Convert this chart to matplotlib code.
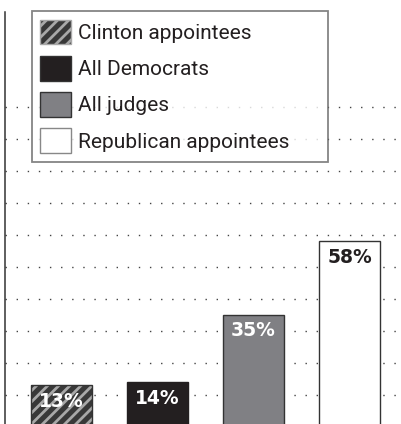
import matplotlib
matplotlib.use('Agg')
import matplotlib.pyplot as plt

plt.rcParams['font.family'] = ['Roboto', 'DejaVu Sans']
plt.rcParams['hatch.linewidth'] = 2.0

# data
groups = ['Clinton appointees', 'All Democrats', 'All judges', 'Republican appointees']
values = [13, 14, 35, 58]
labels = ['13%', '14%', '35%', '58%']
grid_levels = [10, 20, 30, 40, 50, 60, 70, 80, 90, 100]

W, H = 402, 424
fig = plt.figure(figsize=(W / 100, H / 100), dpi=100)
# axes from x=5.5px to right edge, y from 12px (top) down to 427px (zero line, just under the edge)
ax = fig.add_axes([5.5 / W, -3 / H, (W - 5.5) / W, 415 / H])
ax.set_ylim(0, 415 / 3.2)
ax.set_xlim(-0.583, 3.547)

for y in grid_levels:
    ax.axhline(y, color='#444444', lw=1.0, linestyle=(0, (1, 7.0)), zorder=0)

x = list(range(len(values)))
w = 0.635

# hatched bar: light stripes on dark ground, outline drawn separately
b0 = ax.bar(x[0], values[0], w, color='#383838', edgecolor='#a8a8a8', lw=0, hatch='///', zorder=2)
ax.bar(x[0], values[0], w, fill=False, edgecolor='#333333', lw=1.0, zorder=3)
b1 = ax.bar(x[1], values[1], w, color='#231f20', edgecolor='#231f20', lw=1.0, zorder=2)
b2 = ax.bar(x[2], values[2], w, color='#808084', edgecolor='#333333', lw=1.0, zorder=2)
b3 = ax.bar(x[3], values[3], w, color='white', edgecolor='#333333', lw=1.0, zorder=2)

text_colors = ['white', 'white', 'white', '#231f20']
for xi, v, lab, c in zip(x, values, labels, text_colors):
    ax.annotate(lab, (xi, v), xytext=(0, -11.5), textcoords='offset points',
                ha='center', va='center', fontsize=13.5, fontweight='bold', color=c,
                family='DejaVu Sans', zorder=4)

for s in ['top', 'right', 'bottom']:
    ax.spines[s].set_visible(False)
ax.spines['left'].set_color('#333333')
ax.spines['left'].set_linewidth(1.1)
ax.set_xticks([])
ax.set_yticks([])

# legend box: x 31.7..328 px, top at 11 px
leg = ax.legend([b0, b1, b2, b3], groups, loc='upper left', mode='expand',
                bbox_to_anchor=(31.7 / W, 1 - 161 / H, 296.3 / W, 150 / H),
                bbox_transform=fig.transFigure,
                fontsize=15, frameon=True, fancybox=False, borderpad=0.42,
                handlelength=1.45, handleheight=1.45, handletextpad=0.35,
                labelspacing=0.55, borderaxespad=0)
leg.get_frame().set_edgecolor('#666666')
leg.get_frame().set_linewidth(1.3)
for t in leg.get_texts():
    t.set_color('#231f20')
for p in leg.get_patches():
    p.set_linewidth(1.0)
    p.set_edgecolor('#333333')
leg.get_patches()[0].set_edgecolor('#a8a8a8')
leg.get_patches()[3].set_edgecolor('#888888')

fig.savefig('out.png', dpi=100)
